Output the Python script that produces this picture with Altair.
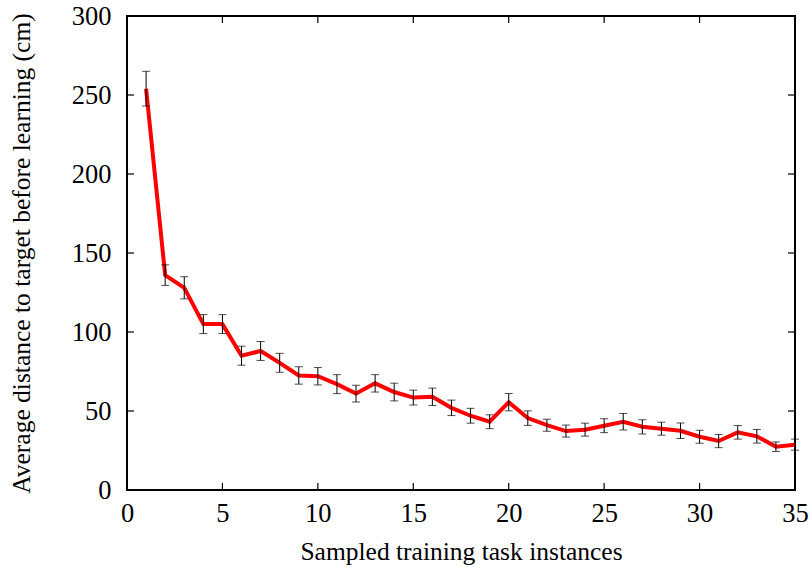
import altair as alt
import pandas as pd

instances = list(range(1, 36))
avg_dist = [254, 136, 128, 105, 105, 85, 88, 80.5, 72.5, 72, 67, 61, 67.5, 62, 58.5, 59, 52, 47, 43.2, 55.6,
            45.5, 41, 37.3, 38.2, 40.7, 43.2, 40, 38.8, 37.5, 33.7, 31, 36.5, 34, 27.4, 28.7]
err = [11, 6.5, 7, 6, 6, 6, 6, 6, 5.5, 5.5, 6, 5.3, 5.5, 5.6, 4.7, 5.5, 4.9, 4.7, 4.4, 5.5,
       4.6, 3.8, 3.8, 4.1, 4.4, 5.2, 4.5, 4.1, 4.9, 4.1, 4.2, 4.3, 4.3, 3.0, 3.5]
x_ticks = [0, 5, 10, 15, 20, 25, 30, 35]
y_ticks = [0, 50, 100, 150, 200, 250, 300]
x_title = "Sampled training task instances"
y_title = "Average distance to target before learning (cm)"

W, H = 668, 474
FONT = "Liberation Serif"

df = pd.DataFrame({"x": instances, "y": avg_dist,
                   "lo": [v - e for v, e in zip(avg_dist, err)],
                   "hi": [v + e for v, e in zip(avg_dist, err)]})
xt = pd.DataFrame({"t": x_ticks})
yt = pd.DataFrame({"t": y_ticks})

xscale = alt.Scale(domain=[0, 35], nice=False, zero=False)
yscale = alt.Scale(domain=[0, 300], nice=False)

xaxis = alt.Axis(values=x_ticks, title=x_title, labelPadding=10, titlePadding=13, labelFlush=False)
yaxis = alt.Axis(values=y_ticks, title=y_title, labelPadding=16, titlePadding=37)

line = alt.Chart(df).mark_line(color="#ff0000", strokeWidth=4).encode(
    x=alt.X("x:Q", scale=xscale, axis=xaxis),
    y=alt.Y("y:Q", scale=yscale, axis=yaxis),
)

ebar = alt.Chart(df).mark_errorbar(ticks=alt.MarkConfig(size=8), color="black", thickness=1).encode(
    x=alt.X("x:Q", scale=xscale, axis=xaxis),
    y=alt.Y("lo:Q", scale=yscale, axis=yaxis),
    y2="hi:Q",
)

tb = alt.Chart(xt).mark_rule(color="black", strokeWidth=1.2).encode(
    x=alt.X("t:Q", scale=xscale, axis=xaxis), y=alt.value(H), y2=alt.value(H - 7))
tt = alt.Chart(xt).mark_rule(color="black", strokeWidth=1.2).encode(
    x=alt.X("t:Q", scale=xscale, axis=xaxis), y=alt.value(0), y2=alt.value(7))
tl = alt.Chart(yt).mark_rule(color="black", strokeWidth=1.2).encode(
    y=alt.Y("t:Q", scale=yscale, axis=yaxis), x=alt.value(0), x2=alt.value(7))
tr = alt.Chart(yt).mark_rule(color="black", strokeWidth=1.2).encode(
    y=alt.Y("t:Q", scale=yscale, axis=yaxis), x=alt.value(W), x2=alt.value(W - 7))

chart = alt.layer(line, ebar, tb, tt, tl, tr).properties(
    width=W, height=H,
    autosize=alt.AutoSizeParams(type="none"),
    padding={"left": 127, "top": 16, "right": 16, "bottom": 77},
    background="white",
).configure_view(stroke="black", strokeWidth=2).configure_axis(
    grid=False, ticks=False, domain=False,
    labelFont=FONT, labelFontSize=26.5, labelColor="black",
    titleFont=FONT, titleFontSize=25.5, titleFontWeight="normal", titleColor="black",
)

chart.save("out.html", embed_options={"renderer": "svg", "actions": False})
